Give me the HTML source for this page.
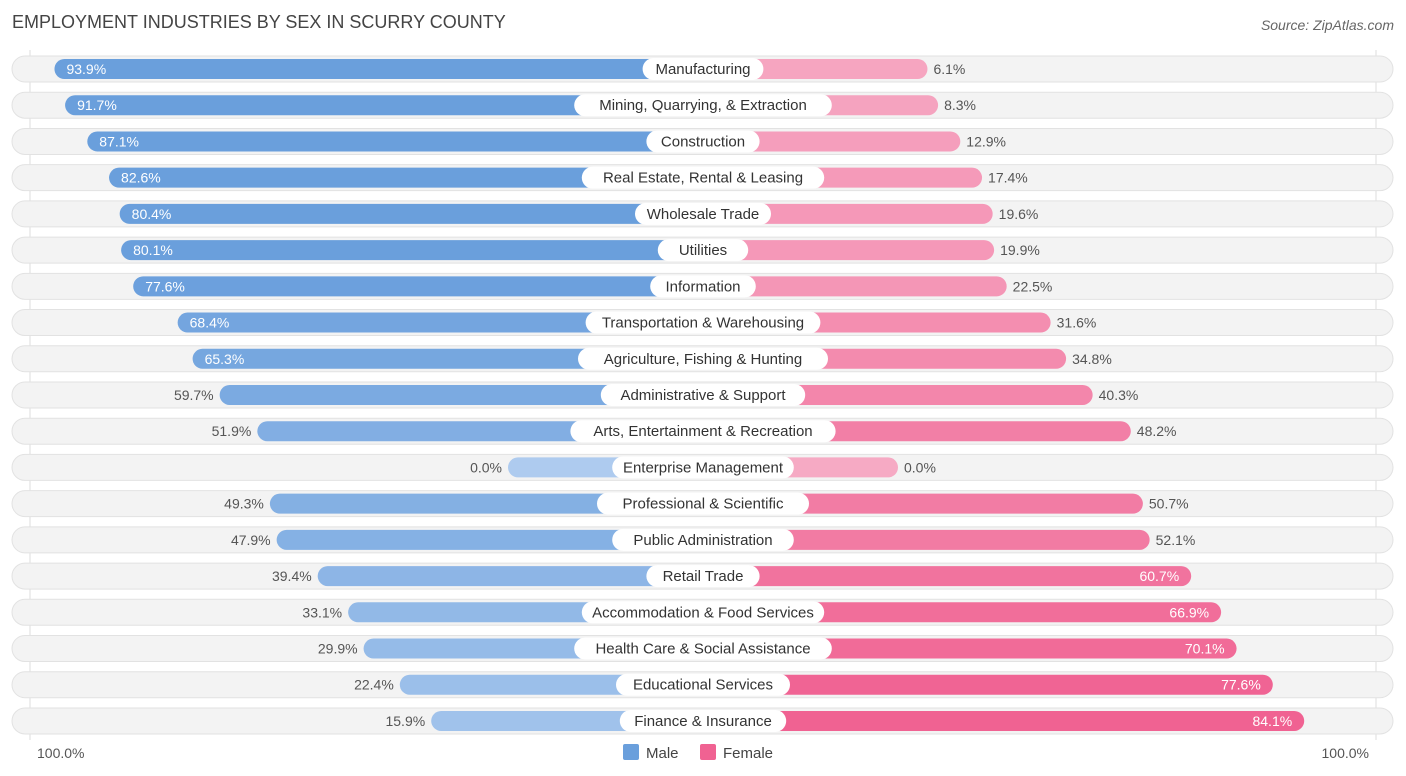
<!DOCTYPE html>
<html><head><meta charset="utf-8"><style>
body{margin:0;background:#fff;font-family:"Liberation Sans",sans-serif;}
#c{position:relative;width:1406px;height:776px;overflow:hidden}
</style></head><body>
<div id="c">
<svg id="s" width="1406" height="776" xmlns="http://www.w3.org/2000/svg">
<text x="12" y="28" font-size="18" fill="#444">EMPLOYMENT INDUSTRIES BY SEX IN SCURRY COUNTY</text>
<text x="1394" y="30" font-size="14" fill="#666" font-style="italic" text-anchor="end">Source: ZipAtlas.com</text>
<line x1="30" y1="50" x2="30" y2="740" stroke="#ddd"/>
<line x1="1376" y1="50" x2="1376" y2="740" stroke="#ddd"/>
<g id="rows"></g>
<text x="37" y="758" font-size="14" fill="#555">100.0%</text>
<text x="1369" y="758" font-size="14" fill="#555" text-anchor="end">100.0%</text>
<rect x="623" y="744" width="16" height="16" rx="2" fill="#6a9fdc"/>
<text x="646" y="758" font-size="15" fill="#444">Male</text>
<rect x="700" y="744" width="16" height="16" rx="2" fill="#f06292"/>
<text x="723" y="758" font-size="15" fill="#444">Female</text>
</svg></div>
<script>
const categories=["Manufacturing","Mining, Quarrying, & Extraction","Construction","Real Estate, Rental & Leasing","Wholesale Trade","Utilities","Information","Transportation & Warehousing","Agriculture, Fishing & Hunting","Administrative & Support","Arts, Entertainment & Recreation","Enterprise Management","Professional & Scientific","Public Administration","Retail Trade","Accommodation & Food Services","Health Care & Social Assistance","Educational Services","Finance & Insurance"];
const male=[93.9,91.7,87.1,82.6,80.4,80.1,77.6,68.4,65.3,59.7,51.9,0.0,49.3,47.9,39.4,33.1,29.9,22.4,15.9];
const female=[6.1,8.3,12.9,17.4,19.6,19.9,22.5,31.6,34.8,40.3,48.2,0.0,50.7,52.1,60.7,66.9,70.1,77.6,84.1];
const NS="http://www.w3.org/2000/svg";
const CX=703,BASE=195,K=4.83,Y0=69,DY=36.22;
function len(v){return BASE+v*K;}
function mix(a,b,t){return "rgb("+a.map((x,i)=>Math.round(x+(b[i]-x)*t)).join(",")+")";}
function mcol(v){return mix([174,203,239],[106,159,220],Math.min(1,v/80));}
function fcol(v){return mix([246,170,196],[240,98,146],Math.min(1,v/80));}
const g=document.getElementById('rows');
function mk(tag,attrs,txt){const e=document.createElementNS(NS,tag);for(const k in attrs)e.setAttribute(k,attrs[k]);if(txt!==undefined)e.textContent=txt;g.appendChild(e);return e;}
categories.forEach((c,i)=>{
  const y=Y0+i*DY;
  const bg=mk('rect',{x:12,y:y-13,width:1381,height:26,rx:13,fill:'#f3f3f3',stroke:'#e2e2e2'});
  
  
  const ml=len(male[i]);
  const mb=mk('rect',{x:CX-ml,y:y-10,width:ml,height:20,rx:10,fill:mcol(male[i])});
  
  
  const fl=len(female[i]);
  const fb=mk('rect',{x:CX,y:y-10,width:fl,height:20,rx:10,fill:fcol(female[i])});
  
  
  const tw=c.length*7.6+22;
  const lb=mk('rect',{x:CX-tw/2,y:y-11,width:tw,height:22,rx:11,fill:'#fff'});
  
  
  const lt=mk('text',{x:CX,y:y+5,'font-size':15,fill:'#333','text-anchor':'middle'},c);
  
  
  const mIn=male[i]>=65;
  const mt=mk('text',{x:mIn?CX-ml+12:CX-ml-6,y:y+5,'font-size':14,fill:mIn?'#fff':'#555','text-anchor':mIn?'start':'end'},male[i].toFixed(1)+'%');
  
  
  const fIn=female[i]>=60;
  const ft=mk('text',{x:fIn?CX+fl-12:CX+fl+6,y:y+5,'font-size':14,fill:fIn?'#fff':'#555','text-anchor':fIn?'end':'start'},female[i].toFixed(1)+'%');
  
  
});
</script>
</body></html>
